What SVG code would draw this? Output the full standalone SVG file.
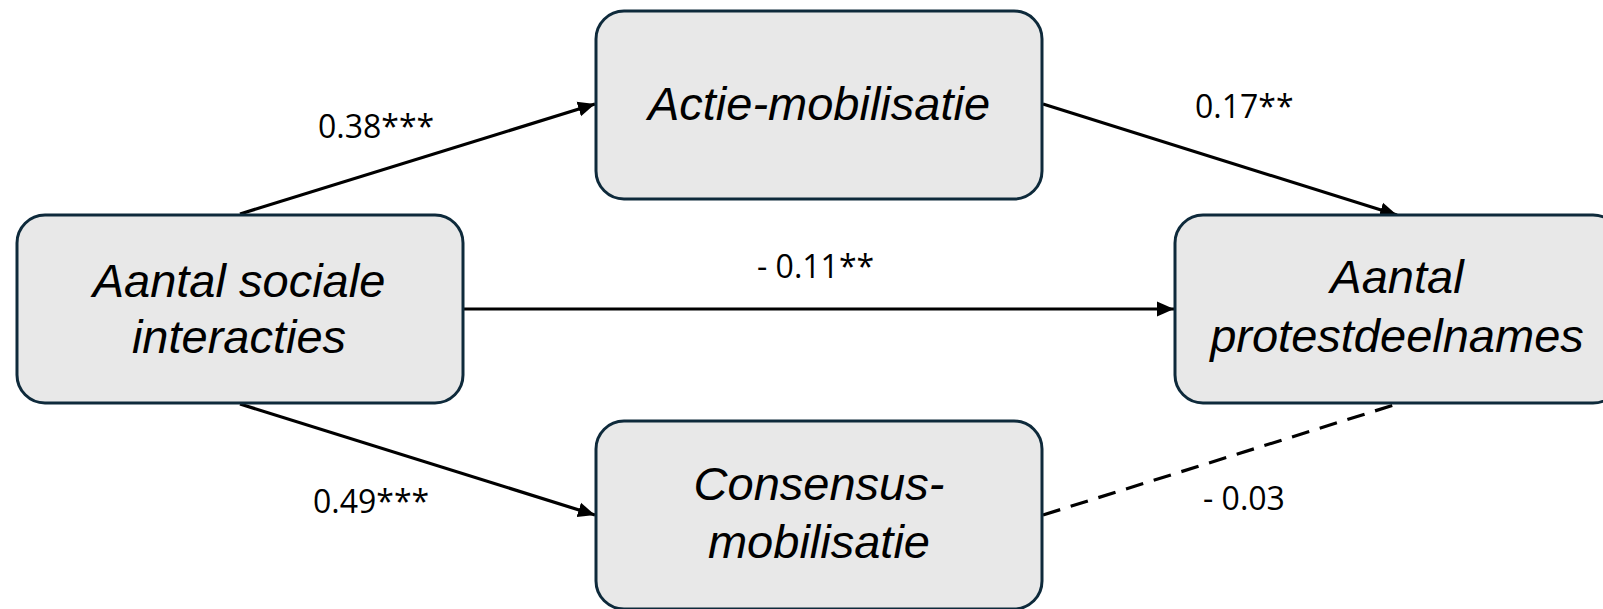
<svg xmlns="http://www.w3.org/2000/svg" width="1603" height="609" viewBox="0 0 1603 609">
  <defs>
    <marker id="arrow" markerUnits="userSpaceOnUse" markerWidth="18" markerHeight="16" viewBox="0 0 18 16" refX="17" refY="8" orient="auto">
      <path d="M0,0.5 L17,8 L0,15.5 Z" fill="#000"/>
    </marker>
    <style>
      .node { fill: #e8e8e8; stroke: #0e2a3b; stroke-width: 3; }
      .ntext { font-family: "Liberation Sans", Arial, sans-serif; font-style: italic; font-size: 47px; fill: #000; text-anchor: middle; }
      .lbl { font-family: "Open Sans", "Liberation Sans", sans-serif; font-size: 32px; fill: #000; }
      .conn { stroke: #000; stroke-width: 3.2; fill: none; }
      .dash { stroke-dasharray: 18 11; }
    </style>
  </defs>
  <rect width="1603" height="609" fill="#fff"/>

  <g id="connectors">
    <line class="conn" x1="240" y1="214" x2="595" y2="104" marker-end="url(#arrow)"/>
    <line class="conn" x1="1043" y1="104" x2="1397" y2="215" marker-end="url(#arrow)"/>
    <line class="conn" x1="463" y1="309" x2="1174" y2="309" marker-end="url(#arrow)"/>
    <line class="conn" x1="240" y1="404" x2="595" y2="515" marker-end="url(#arrow)"/>
    <line class="conn dash" x1="1043" y1="515" x2="1397" y2="404"/>
    <text class="lbl" x="318" y="138">0.38***</text>
    <text class="lbl" x="1195" y="118">0.17**</text>
    <text class="lbl" x="757" y="278">- 0.11**</text>
    <text class="lbl" x="313" y="513">0.49***</text>
    <text class="lbl" x="1203" y="510">- 0.03</text>
  </g>

  <g id="node-sociale">
    <rect class="node" x="17" y="215" width="446" height="188" rx="28"/>
    <text class="ntext" x="239" y="297">Aantal sociale</text>
    <text class="ntext" x="239" y="353">interacties</text>
  </g>
  <g id="node-actie">
    <rect class="node" x="596" y="11" width="446" height="188" rx="28"/>
    <text class="ntext" x="819" y="120">Actie-mobilisatie</text>
  </g>
  <g id="node-protest">
    <rect class="node" x="1175" y="215" width="446" height="188" rx="28"/>
    <text class="ntext" x="1397" y="293">Aantal</text>
    <text class="ntext" x="1397" y="352">protestdeelnames</text>
  </g>
  <g id="node-consensus">
    <rect class="node" x="596" y="421" width="446" height="188" rx="28"/>
    <text class="ntext" x="819" y="500">Consensus-</text>
    <text class="ntext" x="819" y="558">mobilisatie</text>
  </g>
</svg>
